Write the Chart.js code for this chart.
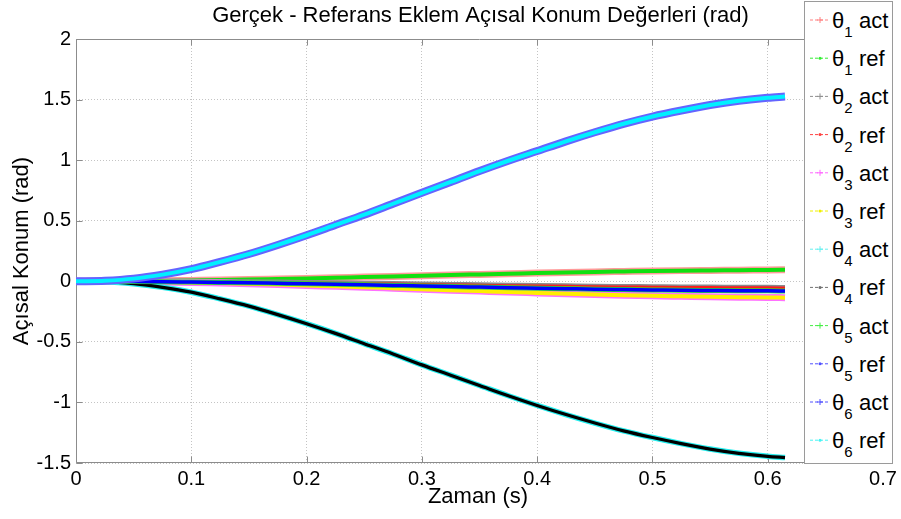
<!DOCTYPE html>
<html>
<head>
<meta charset="utf-8">
<script src="https://cdn.jsdelivr.net/npm/chart.js@4.4.1/dist/chart.umd.min.js"></script>
<style>
  html, body { margin: 0; padding: 0; background: #ffffff; }
  #wrap { position: relative; width: 901px; height: 519px; overflow: hidden; }
  #plot { position: absolute; left: 0; top: 0; }
  #legend { position: absolute; left: 804px; top: 1px; }
</style>
</head>
<body>
<div id="wrap">
  <canvas id="plot" width="901" height="519"></canvas>
  <svg id="legend" width="90" height="464" xmlns="http://www.w3.org/2000/svg"></svg>
</div>
<script>
// Sample times (s)
const timeSec = [0, 0.025, 0.05, 0.075, 0.1, 0.125, 0.15, 0.175, 0.2, 0.225, 0.25, 0.275, 0.3,
                 0.325, 0.35, 0.375, 0.4, 0.425, 0.45, 0.475, 0.5, 0.525, 0.55, 0.575, 0.6, 0.615];

// Joint angles (rad): measured (act) and reference (ref)
const theta1Act = [0, 0.000, 0.002, 0.004, 0.007, 0.010, 0.014, 0.019, 0.024, 0.029, 0.035, 0.040, 0.046,
                   0.052, 0.057, 0.062, 0.068, 0.072, 0.077, 0.081, 0.085, 0.088, 0.090, 0.092, 0.094, 0.095];
const theta1Ref = [0, 0.000, 0.002, 0.004, 0.007, 0.010, 0.014, 0.019, 0.024, 0.029, 0.035, 0.040, 0.046,
                   0.052, 0.057, 0.062, 0.068, 0.072, 0.077, 0.081, 0.085, 0.088, 0.090, 0.092, 0.094, 0.095];
const theta2Act = [0, 0.000, -0.001, -0.002, -0.004, -0.006, -0.008, -0.011, -0.014, -0.017, -0.020, -0.023, -0.027,
                   -0.030, -0.033, -0.036, -0.039, -0.042, -0.045, -0.047, -0.049, -0.051, -0.052, -0.053, -0.054, -0.055];
const theta2Ref = [0, 0.000, -0.001, -0.002, -0.004, -0.006, -0.008, -0.011, -0.014, -0.017, -0.020, -0.023, -0.027,
                   -0.030, -0.033, -0.036, -0.039, -0.042, -0.045, -0.047, -0.049, -0.051, -0.052, -0.053, -0.054, -0.055];
const theta3Act = [0, 0.000, -0.002, -0.005, -0.009, -0.015, -0.021, -0.027, -0.034, -0.042, -0.049, -0.057, -0.065,
                   -0.073, -0.081, -0.089, -0.096, -0.103, -0.109, -0.115, -0.120, -0.124, -0.128, -0.131, -0.133, -0.135];
const theta3Ref = [0, 0.000, -0.002, -0.005, -0.009, -0.015, -0.021, -0.027, -0.034, -0.042, -0.049, -0.057, -0.065,
                   -0.073, -0.081, -0.089, -0.096, -0.103, -0.109, -0.115, -0.120, -0.124, -0.128, -0.131, -0.133, -0.135];
const theta4Act = [0, -0.003, -0.020, -0.050, -0.090, -0.145, -0.205, -0.275, -0.350, -0.430, -0.515, -0.600, -0.690,
                   -0.775, -0.860, -0.945, -1.025, -1.100, -1.170, -1.235, -1.290, -1.340, -1.385, -1.420, -1.445, -1.455];
const theta4Ref = [0, -0.003, -0.020, -0.050, -0.090, -0.145, -0.205, -0.275, -0.350, -0.430, -0.515, -0.600, -0.690,
                   -0.775, -0.860, -0.945, -1.025, -1.100, -1.170, -1.235, -1.290, -1.340, -1.385, -1.420, -1.445, -1.455];
const theta5Act = [0, 0.000, -0.001, -0.003, -0.006, -0.009, -0.012, -0.016, -0.020, -0.025, -0.029, -0.034, -0.039,
                   -0.043, -0.048, -0.053, -0.057, -0.061, -0.065, -0.068, -0.071, -0.074, -0.076, -0.078, -0.079, -0.080];
const theta5Ref = [0, 0.000, -0.001, -0.003, -0.006, -0.009, -0.012, -0.016, -0.020, -0.025, -0.029, -0.034, -0.039,
                   -0.043, -0.048, -0.053, -0.057, -0.061, -0.065, -0.068, -0.071, -0.074, -0.076, -0.078, -0.079, -0.080];
const theta6Act = [0, 0.005, 0.022, 0.055, 0.100, 0.160, 0.225, 0.300, 0.380, 0.465, 0.550, 0.640, 0.730,
                   0.820, 0.910, 0.995, 1.075, 1.155, 1.230, 1.300, 1.360, 1.410, 1.455, 1.490, 1.515, 1.525];
const theta6Ref = [0, 0.005, 0.022, 0.055, 0.100, 0.160, 0.225, 0.300, 0.380, 0.465, 0.550, 0.640, 0.730,
                   0.820, 0.910, 0.995, 1.075, 1.155, 1.230, 1.300, 1.360, 1.410, 1.455, 1.490, 1.515, 1.525];

// Axis ticks
const xTicks = [0, 0.1, 0.2, 0.3, 0.4, 0.5, 0.6, 0.7];
const yTicks = [-1.5, -1, -0.5, 0, 0.5, 1, 1.5, 2];

// Series: joint number, kind, values
const seriesJoint = [1, 1, 2, 2, 3, 3, 4, 4, 5, 5, 6, 6];
const seriesKind  = ['act', 'ref', 'act', 'ref', 'act', 'ref', 'act', 'ref', 'act', 'ref', 'act', 'ref'];
const seriesValues = [theta1Act, theta1Ref, theta2Act, theta2Ref, theta3Act, theta3Ref,
                      theta4Act, theta4Ref, theta5Act, theta5Ref, theta6Act, theta6Ref];

// Styling per series
const lineColors  = ['#ff9a9a', '#10e010', '#8a8a8a', '#ff1a1a', '#ff70ff', '#ffee00',
                     '#22eeee', '#000000', '#30e030', '#0000ff', '#6464ff', '#00f0ff'];
const legendColors = ['#ff8080', '#33ee33', '#909090', '#ff4040', '#ff66ff', '#f0f000',
                      '#66f0f0', '#707070', '#44ee44', '#5050ff', '#5050ff', '#44f4f4'];
const lineWidths  = [7, 4, 6, 3, 7, 4, 5.5, 3.2, 5, 3.5, 8, 4];

const FONT = '"Liberation Sans", Arial, Helvetica, sans-serif';

const datasets = seriesValues.map((vals, i) => ({
  label: '\u03b8' + seriesJoint[i] + ' ' + seriesKind[i],
  data: timeSec.map((t, k) => ({ x: t, y: vals[k] })),
  borderColor: lineColors[i],
  backgroundColor: lineColors[i],
  borderWidth: lineWidths[i],
  pointRadius: 0,
  cubicInterpolationMode: 'monotone',
  fill: false,
  order: seriesValues.length - i
}));

const fmt = v => String(Number(v.toFixed(2)));

// Box frame with inward tick marks
const framePlugin = {
  id: 'frame',
  beforeDatasetsDraw(chart) {
    const { ctx, chartArea: a, scales } = chart;
    ctx.save();
    ctx.strokeStyle = '#8c8c8c';
    ctx.lineWidth = 1;
    const L = Math.round(a.left) + 0.5, R = Math.round(a.right) - 0.5;
    const T = Math.round(a.top) + 0.5, B = Math.round(a.bottom) - 0.5;
    ctx.beginPath();
    ctx.rect(L, T, R - L, B - T);
    xTicks.forEach(v => {
      const px = Math.round(scales.x.getPixelForValue(v)) + 0.5;
      ctx.moveTo(px, B); ctx.lineTo(px, B - 6);
      ctx.moveTo(px, T); ctx.lineTo(px, T + 6);
    });
    yTicks.forEach(v => {
      const py = Math.round(scales.y.getPixelForValue(v)) + 0.5;
      ctx.moveTo(L, py); ctx.lineTo(L + 6, py);
      ctx.moveTo(R, py); ctx.lineTo(R - 6, py);
    });
    ctx.stroke();
    ctx.restore();
  }
};

// Title and axis titles
const textPlugin = {
  id: 'texts',
  afterDraw(chart) {
    const { ctx, chartArea: a } = chart;
    ctx.save();
    ctx.fillStyle = '#000';
    ctx.font = '22px ' + FONT;
    ctx.textAlign = 'center';
    ctx.textBaseline = 'middle';
    ctx.fillText('Gerçek - Referans Eklem Açısal Konum Değerleri (rad)', (a.left + a.right) / 2 + 1, 16);
    ctx.fillText('Zaman (s)', 478, 497);
    ctx.translate(22, (a.top + a.bottom) / 2);
    ctx.rotate(-Math.PI / 2);
    ctx.fillText('Açısal Konum (rad)', 0, 0);
    ctx.restore();
  }
};

new Chart(document.getElementById('plot'), {
  type: 'line',
  data: { datasets },
  options: {
    responsive: false,
    animation: false,
    devicePixelRatio: 1,
    layout: { padding: { top: 39, right: 18, left: 0, bottom: 0 } },
    plugins: { legend: { display: false }, tooltip: { enabled: false }, title: { display: false } },
    scales: {
      x: {
        type: 'linear', min: 0, max: 0.7,
        afterBuildTicks: s => { s.ticks = xTicks.map(v => ({ value: v })); },
        afterFit: s => { s.height = 56; },
        ticks: { color: '#000', font: { family: FONT, size: 20 }, padding: 4, maxRotation: 0, autoSkip: false,
                 callback: v => fmt(v) },
        grid: { color: '#c4c4c4', lineWidth: 1, drawTicks: false },
        border: { display: false, dash: [1, 2] }
      },
      y: {
        type: 'linear', min: -1.5, max: 2,
        afterBuildTicks: s => { s.ticks = yTicks.map(v => ({ value: v })); },
        afterFit: s => { s.width = 76; },
        ticks: { color: '#000', font: { family: FONT, size: 20 }, padding: 5, autoSkip: false,
                 callback: v => fmt(v) },
        grid: { color: '#c4c4c4', lineWidth: 1, drawTicks: false },
        border: { display: false, dash: [1, 2] }
      }
    }
  },
  plugins: [framePlugin, textPlugin]
});

// Legend box
(function buildLegend() {
  const svg = document.getElementById('legend');
  const NS = 'http://www.w3.org/2000/svg';
  const mk = (tag, attrs) => {
    const el = document.createElementNS(NS, tag);
    for (const k in attrs) el.setAttribute(k, attrs[k]);
    return el;
  };
  svg.appendChild(mk('rect', { x: 0.5, y: 0.5, width: 88, height: 462, fill: '#fff', stroke: '#9a9a9a', 'stroke-width': 1 }));
  seriesValues.forEach((_, i) => {
    const cy = 19 + i * 38.2;
    const c = legendColors[i];
    svg.appendChild(mk('line', { x1: 6, y1: cy, x2: 26, y2: cy, stroke: c, 'stroke-width': 1, 'stroke-dasharray': '3,2' }));
    if (seriesKind[i] === 'act') {
      svg.appendChild(mk('path', { d: `M13,${cy} h6 M16,${cy - 3} v6`, stroke: c, 'stroke-width': 1 }));
    } else {
      svg.appendChild(mk('circle', { cx: 16, cy: cy, r: 1.5, fill: c }));
    }
    const t = mk('text', { x: 28, y: cy + 8, 'font-family': 'Liberation Sans, Arial, sans-serif', 'font-size': 22, fill: '#000' });
    t.appendChild(document.createTextNode('\u03b8'));
    const sub = mk('tspan', { 'font-size': 15, dy: 9 });
    sub.textContent = String(seriesJoint[i]);
    t.appendChild(sub);
    const rest = mk('tspan', { x: 55, dy: -9 });
    rest.textContent = seriesKind[i];
    t.appendChild(rest);
    svg.appendChild(t);
  });
})();
</script>
</body>
</html>
